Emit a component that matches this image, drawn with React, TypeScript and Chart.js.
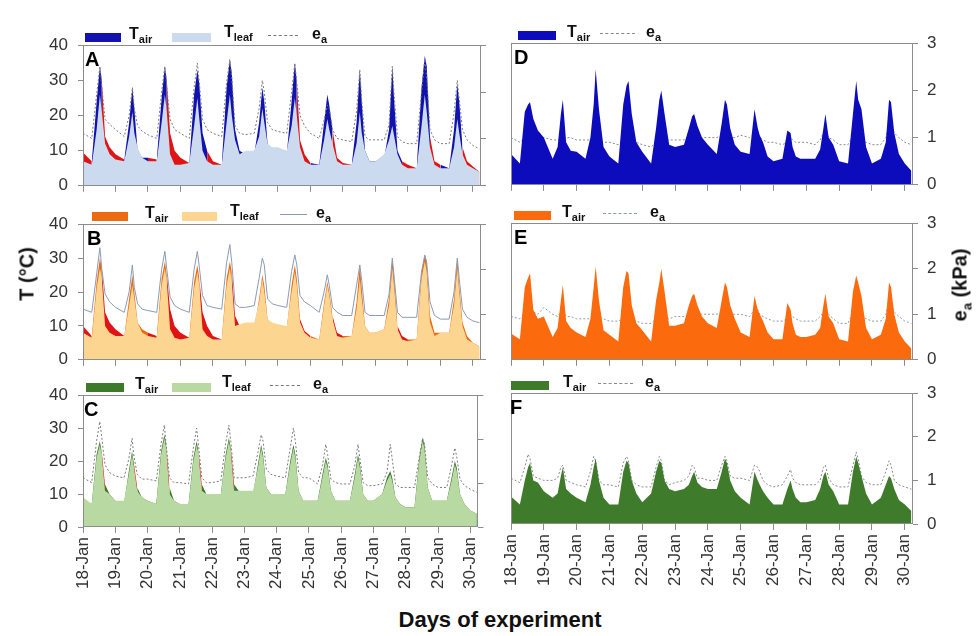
import React, { useEffect, useRef } from "react";
import { Chart, registerables } from "chart.js";
Chart.register(...registerables);

const FONT = "'Liberation Sans', Arial, Helvetica, sans-serif";

// ---------- DATA ----------
const tickLabels = ["18-Jan","19-Jan","20-Jan","21-Jan","22-Jan","23-Jan","24-Jan","25-Jan","26-Jan","27-Jan","28-Jan","29-Jan","30-Jan"];
const dayTicks = [0,1,2,3,4,5,6,7,8,9,10,11,12];
// sampling instants within each day (fraction of day)
const dayFractions = [0, 0.27, 0.42, 0.52, 0.58, 0.68, 0.82];
const sampleDays = [0,1,2,3,4,5,6,7,8,9,10,11];
const tailTimes = [12, 12.2];
const times: number[] = sampleDays.flatMap((d) => dayFractions.map((f) => d + f)).concat(tailTimes);

// Panel A (°C and kPa)
const aTair = [
  9.5, 7, 24, 34, 30, 14, 11,
  9, 7.5, 18, 28, 22, 10, 8,
  8, 7.5, 25, 34, 30, 15, 10,
  8, 6.5, 26, 33, 29, 15, 10,
  7, 6, 28, 36, 32, 16, 10,
  9, 9, 18, 28, 24, 12, 9,
  9, 9, 24, 35, 30, 13, 9,
  6.5, 6, 18, 26, 23, 16, 8,
  6.5, 6, 18, 33, 24, 10, 7,
  7, 8, 16, 34, 24, 10, 7,
  6, 5, 28, 37, 34, 14, 7,
  6, 5, 16, 29, 24, 11, 7,
  5.5, 4];
const aTleaf = [
  7, 6, 16, 26, 21, 12, 9,
  7.5, 7, 14, 21, 15, 11, 8,
  7, 7, 18, 26, 21, 9, 6,
  6, 6.5, 17, 25, 19, 10, 7,
  6, 6, 18, 26, 20, 13, 9,
  10, 10, 14, 22, 18, 12, 11,
  11, 10, 17, 25, 20, 11, 7,
  6, 6, 13, 19, 16, 12, 7,
  6, 6, 12, 21, 15, 10, 7,
  7, 9, 13, 17, 14, 9, 6,
  5, 5, 17, 26, 21, 11, 6,
  5, 5, 11, 19, 15, 9, 6,
  5, 4];
const aEa = [
  1.12, 1.01, 1.95, 2.55, 2.1, 1.42, 1.31,
  1.2, 1.05, 1.5, 2.1, 1.65, 1.28, 1.16,
  1.09, 1.01, 2.0, 2.55, 2.1, 1.42, 1.2,
  1.12, 1.01, 2.1, 2.62, 2.2, 1.42, 1.2,
  1.12, 1.05, 2.2, 2.7, 2.3, 1.28, 1.12,
  1.09, 1.12, 1.65, 2.25, 2.0, 1.35, 1.2,
  1.16, 1.12, 2.0, 2.62, 2.2, 1.5, 1.28,
  1.12, 1.01, 1.4, 1.72, 1.65, 1.2, 1.01,
  0.98, 0.94, 1.6, 2.48, 1.8, 1.05, 0.98,
  0.98, 0.98, 1.3, 2.55, 1.9, 1.05, 0.94,
  0.9, 0.9, 2.0, 2.7, 2.3, 1.2, 0.98,
  0.9, 0.9, 1.55, 2.25, 1.85, 1.2, 0.98,
  0.86, 0.79];
const aRed = [[0, 0.27], [0.58, 1.27], [2.0, 2.27], [2.58, 3.27], [3.82, 4.27], [6.58, 6.95], [7.68, 8.27], [9.82, 10.27], [10.68, 11.0], [11.68, 12.2]];

// Panel B
const bTair = [
  10, 7, 23, 30, 27, 14, 11,
  9, 7, 18, 25, 20, 11, 9,
  8, 7, 24, 29, 25, 15, 10,
  8, 6.5, 23, 28, 24, 14, 10,
  7, 6, 24, 29, 26, 13, 10,
  9, 9, 18, 25, 22, 12, 10,
  9, 9, 22, 28, 24, 12, 8.5,
  7, 6, 17, 23, 20, 13, 8,
  7, 7, 17, 28, 21, 10, 8,
  8, 9, 18, 30, 24, 10, 7,
  6, 6, 26, 31, 29, 13, 8,
  8, 8, 18, 30, 22, 11, 7,
  5, 4];
const bTleaf = [
  8, 6.5, 21, 27, 24, 10, 8,
  7, 7, 16, 22, 18, 11, 8,
  7, 6.5, 22, 27, 23, 9, 6.5,
  6, 6.5, 21, 26, 22, 9, 7,
  6, 6, 22, 27, 23, 10, 10.5,
  11, 11, 17, 24, 20, 12, 11,
  10.5, 10, 20, 26, 22, 11, 8,
  6.5, 6, 16, 22, 19, 12, 7,
  6.5, 7, 15, 24, 18, 10, 8,
  8, 9, 16, 27, 21, 9, 6,
  5.5, 6, 24, 29, 26, 11, 7,
  8, 8, 16, 27, 20, 10, 6,
  5, 4];
const bEa = [
  1.12, 1.05, 1.9, 2.48, 2.0, 1.46, 1.28,
  1.16, 1.05, 1.5, 2.1, 1.6, 1.24, 1.12,
  1.09, 1.05, 2.0, 2.4, 2.0, 1.39, 1.2,
  1.12, 1.05, 2.0, 2.4, 2.05, 1.42, 1.2,
  1.16, 1.12, 2.15, 2.55, 2.15, 1.24, 1.16,
  1.16, 1.2, 1.8, 2.25, 2.1, 1.35, 1.24,
  1.2, 1.16, 1.95, 2.32, 2.1, 1.42, 1.28,
  1.2, 1.05, 1.5, 1.88, 1.65, 1.16, 1.05,
  0.98, 0.98, 1.65, 2.1, 1.75, 1.05, 0.98,
  0.98, 0.98, 1.45, 2.25, 1.8, 1.05, 0.94,
  0.94, 0.94, 1.95, 2.32, 2.15, 1.28, 0.98,
  0.9, 0.9, 1.5, 2.25, 1.8, 1.12, 0.94,
  0.86, 0.82];
const bRed = [[0, 0.27], [0.58, 1.27], [1.95, 2.27], [2.58, 3.27], [3.58, 4.27], [4.58, 4.82], [6.68, 6.95], [7.68, 8.0], [9.68, 9.95]];

// Panel C
const cTair = [
  8, 7, 22, 26, 23, 13, 10,
  8, 7, 17, 23, 19, 12, 9,
  8, 7, 23, 28, 25, 12, 8,
  7, 7, 21, 26, 23, 13, 10,
  10, 10, 22, 27, 24, 13, 11,
  10, 10, 19, 25, 22, 12, 10,
  10, 10, 20, 25, 22, 11, 8,
  8, 8, 16, 21, 19, 11, 8,
  8, 8, 16, 22, 19, 10, 8,
  8, 10, 15, 17, 15, 9, 7,
  6, 6, 21, 27, 25, 12, 8,
  8, 8, 15, 20, 18, 10, 7,
  5, 4];
const cTleaf = [
  9, 7, 21, 25, 22, 11, 10,
  8, 8, 16, 22, 18, 11, 9,
  8, 7, 22, 27, 24, 10, 8,
  7, 7, 20, 25, 22, 11, 10,
  10, 10, 21, 26, 23, 11, 11,
  11, 11, 18, 24, 21, 12, 10,
  10, 10, 19, 24, 21, 11, 8,
  8, 8, 15, 20, 18, 11, 8,
  8, 8, 15, 21, 18, 10, 8,
  8, 10, 14, 16, 14, 9, 7,
  6, 6, 20, 26, 24, 12, 8,
  8, 8, 14, 19, 17, 10, 7,
  5, 4];
const cEa = [
  1.12, 1.01, 1.95, 2.4, 2.05, 1.42, 1.24,
  1.16, 1.12, 1.55, 2.02, 1.6, 1.2, 1.09,
  1.09, 1.05, 1.9, 2.32, 1.85, 1.12, 1.01,
  1.01, 0.98, 1.8, 2.25, 1.85, 1.12, 1.01,
  1.01, 1.05, 1.9, 2.32, 1.95, 1.12, 1.12,
  1.12, 1.16, 1.7, 2.1, 1.95, 1.31, 1.2,
  1.16, 1.12, 1.8, 2.25, 1.95, 1.24, 1.12,
  1.12, 0.98, 1.4, 1.88, 1.65, 1.09, 1.01,
  0.98, 0.98, 1.4, 1.88, 1.55, 1.01, 0.94,
  0.94, 0.98, 1.25, 1.88, 1.55, 0.98, 0.9,
  0.9, 0.9, 1.6, 2.02, 1.9, 1.12, 0.98,
  0.9, 0.9, 1.4, 1.8, 1.6, 1.09, 0.94,
  0.86, 0.79];
const cRed = [[0.58, 0.68], [1.58, 1.68], [2.58, 2.68], [3.58, 3.68], [4.58, 4.68]];

// Panel D (read on the kPa axis)
const dTair = [
  0.65, 0.45, 1.55, 1.7, 1.75, 1.4, 1.15,
  1.0, 0.55, 0.8, 1.5, 1.8, 0.9, 0.72,
  0.7, 0.55, 1.0, 1.7, 2.45, 1.6, 0.8,
  0.6, 0.45, 1.7, 2.1, 2.2, 1.5, 0.9,
  0.7, 0.45, 1.2, 1.8, 2.0, 1.5, 0.85,
  0.8, 0.85, 1.2, 1.45, 1.5, 1.25, 1.0,
  0.85, 0.65, 1.3, 1.8, 1.7, 1.2, 0.85,
  0.7, 0.65, 1.6, 1.2, 1.05, 0.9, 0.6,
  0.5, 0.55, 1.15, 1.1, 0.8, 0.6, 0.55,
  0.55, 0.55, 0.75, 1.2, 1.5, 1.0, 0.85,
  0.5, 0.45, 1.5, 2.2, 1.8, 1.6, 0.8,
  0.45, 0.55, 0.9, 1.8, 1.75, 1.1, 0.65,
  0.45, 0.3];
const dEa = [
  1.0, 0.9, 1.0, 1.05, 1.05, 1.0, 1.0,
  1.0, 0.95, 0.95, 1.0, 1.05, 1.0, 1.0,
  0.95, 0.95, 0.95, 1.0, 1.0, 0.95, 0.9,
  0.9, 0.85, 0.95, 1.0, 1.0, 0.95, 0.9,
  0.85, 0.8, 0.9, 1.0, 1.0, 0.95, 0.95,
  0.95, 0.95, 1.0, 1.05, 1.0, 1.0, 1.0,
  1.0, 1.0, 1.05, 1.1, 1.05, 1.0, 1.0,
  1.05, 1.0, 1.1, 1.05, 1.0, 0.95, 0.9,
  0.9, 0.85, 0.9, 1.0, 0.95, 0.9, 0.9,
  0.9, 0.85, 0.95, 1.1, 1.15, 1.0, 0.95,
  0.85, 0.85, 1.05, 1.1, 1.05, 0.95, 0.9,
  0.85, 0.85, 1.0, 1.3, 1.25, 1.1, 1.0,
  0.9, 0.85];

// Panel E
const eTair = [
  0.58, 0.45, 1.6, 1.8, 1.9, 1.1, 0.9,
  0.95, 0.5, 0.7, 1.3, 1.65, 0.85, 0.7,
  0.6, 0.5, 0.9, 1.6, 2.05, 1.3, 0.65,
  0.55, 0.4, 1.6, 1.95, 1.9, 1.2, 0.8,
  0.65, 0.4, 1.3, 1.7, 2.0, 1.5, 0.75,
  0.75, 0.8, 1.2, 1.4, 1.45, 1.2, 0.95,
  0.8, 0.7, 1.3, 1.7, 1.6, 1.2, 0.9,
  0.6, 0.5, 1.4, 1.1, 1.0, 0.85, 0.6,
  0.45, 0.45, 1.25, 1.1, 0.8, 0.55, 0.5,
  0.5, 0.55, 0.7, 1.2, 1.45, 0.95, 0.8,
  0.45, 0.4, 1.5, 1.85, 1.7, 1.4, 0.7,
  0.45, 0.55, 0.9, 1.7, 1.6, 1.0, 0.6,
  0.4, 0.25];
const eEa = [
  0.95, 0.9, 1.0, 1.1, 1.1, 1.05, 1.0,
  1.15, 1.0, 0.95, 1.05, 1.1, 0.95, 0.95,
  0.9, 0.9, 0.9, 1.0, 1.0, 0.95, 0.9,
  0.85, 0.85, 0.9, 1.0, 1.0, 0.9, 0.85,
  0.8, 0.8, 0.9, 1.0, 1.0, 0.9, 0.9,
  0.95, 0.95, 1.0, 1.05, 1.0, 1.0, 1.0,
  1.0, 1.0, 1.05, 1.1, 1.05, 1.0, 1.0,
  1.0, 0.95, 1.1, 1.1, 1.0, 0.95, 0.9,
  0.85, 0.85, 0.9, 1.0, 0.95, 0.9, 0.85,
  0.85, 0.85, 0.95, 1.05, 1.1, 1.0, 0.9,
  0.8, 0.8, 1.05, 1.1, 1.05, 0.95, 0.9,
  0.85, 0.85, 1.0, 1.3, 1.25, 1.05, 0.95,
  0.85, 0.8];

// Panel F
const fTair = [
  0.63, 0.45, 1.0, 1.3, 1.4, 1.0, 0.95,
  0.75, 0.6, 0.7, 1.1, 1.3, 0.8, 0.7,
  0.6, 0.5, 0.9, 1.3, 1.5, 1.0, 0.6,
  0.45, 0.45, 1.2, 1.45, 1.4, 1.0, 0.7,
  0.5, 0.7, 1.2, 1.45, 1.4, 1.0, 0.8,
  0.75, 0.8, 0.9, 1.1, 1.2, 0.95, 0.85,
  0.8, 0.8, 1.2, 1.5, 1.4, 1.0, 0.75,
  0.6, 0.45, 1.2, 1.0, 0.9, 0.75, 0.6,
  0.45, 0.45, 0.8, 1.0, 0.8, 0.6, 0.5,
  0.5, 0.55, 0.8, 1.1, 1.2, 0.9, 0.75,
  0.45, 0.45, 1.2, 1.55, 1.4, 1.1, 0.7,
  0.45, 0.6, 0.9, 1.1, 1.05, 0.8, 0.55,
  0.45, 0.3];
const fEa = [
  1.05, 0.95, 1.3, 1.6, 1.5, 1.1, 1.05,
  1.0, 1.0, 1.05, 1.3, 1.35, 1.0, 0.95,
  0.9, 0.85, 1.2, 1.55, 1.45, 1.0, 0.9,
  0.9, 0.85, 1.4, 1.55, 1.45, 1.0, 0.9,
  0.85, 0.85, 1.3, 1.55, 1.45, 1.0, 0.9,
  0.95, 1.0, 1.1, 1.35, 1.3, 1.05, 1.05,
  1.0, 1.0, 1.35, 1.55, 1.45, 1.1, 1.05,
  1.05, 1.0, 1.35, 1.3, 1.2, 1.0, 0.9,
  0.85, 0.9, 1.1, 1.25, 1.05, 0.95, 0.9,
  0.9, 0.9, 1.0, 1.3, 1.35, 1.05, 0.9,
  0.85, 0.85, 1.35, 1.65, 1.5, 1.1, 0.95,
  0.9, 0.9, 1.2, 1.45, 1.35, 1.0, 0.9,
  0.85, 0.8];

// ---------- STYLES ----------
const RED = "#e01414";
const AXIS = "#8c8c8c";
const TICK_COLOR = "#333";

const pts = (arr: number[]) => times.map((t, i) => ({ x: t, y: arr[i] }));
const inRanges = (ranges: number[][], x: number) => ranges.some(([a, b]) => x >= a && x <= b);

type Spec = {
  id: string;
  left: number; width: number; plotTop: number; plotH: number;
  leftW: number; rightW: number; xH: number;
  side: "left" | "right";
  showX: boolean;
  datasets: any[];
};

function leftDatasets(tair: number[], tleaf: number[], ea: number[], red: number[][], dark: string, light: string, eaColor: string, dashed: boolean) {
  return [
    { label: "ea", data: pts(ea), yAxisID: "yR", borderColor: eaColor, borderWidth: 1, borderDash: dashed ? [2, 2] : [], pointRadius: 0, fill: false, tension: 0 },
    { label: "Tleaf", data: pts(tleaf), yAxisID: "yL", borderColor: "rgba(0,0,0,0)", borderWidth: 1, pointRadius: 0, fill: "origin", backgroundColor: light },
    {
      label: "Tair", data: pts(tair), yAxisID: "yL", borderColor: "rgba(0,0,0,0)", borderWidth: 1, pointRadius: 0, fill: "origin", backgroundColor: dark,
      segment: { backgroundColor: (ctx: any) => (inRanges(red, (ctx.p0.parsed.x + ctx.p1.parsed.x) / 2) ? RED : dark) },
    },
  ];
}
function rightDatasets(tair: number[], ea: number[], color: string, eaColor: string) {
  return [
    { label: "Tair", data: pts(tair), yAxisID: "yR", borderColor: "rgba(0,0,0,0)", borderWidth: 1, pointRadius: 0, fill: "origin", backgroundColor: color },
    { label: "ea", data: pts(ea), yAxisID: "yR", borderColor: eaColor, borderWidth: 1, borderDash: [2, 2], pointRadius: 0, fill: false },
  ];
}

const specs: Spec[] = [
  { id: "A", left: 0, width: 495, plotTop: 45, plotH: 141, leftW: 83, rightW: 14, xH: 7, side: "left", showX: false,
    datasets: leftDatasets(aTair, aTleaf, aEa, aRed, "#1212b0", "#cbdaee", "#7a7a7a", true) },
  { id: "B", left: 0, width: 495, plotTop: 224, plotH: 136, leftW: 83, rightW: 14, xH: 7, side: "left", showX: false,
    datasets: leftDatasets(bTair, bTleaf, bEa, bRed, "#ec6a12", "#fcd690", "#8c9bb3", false) },
  { id: "C", left: 0, width: 495, plotTop: 395, plotH: 132, leftW: 83, rightW: 14, xH: 75, side: "left", showX: true,
    datasets: leftDatasets(cTair, cTleaf, cEa, cRed, "#3c7a2a", "#b8daa2", "#7a7a7a", true) },
  { id: "D", left: 490, width: 486, plotTop: 43, plotH: 142, leftW: 21, rightW: 63, xH: 7, side: "right", showX: false,
    datasets: rightDatasets(dTair, dEa, "#0c0cbc", "#8a8a8a") },
  { id: "E", left: 490, width: 486, plotTop: 223, plotH: 137, leftW: 21, rightW: 63, xH: 7, side: "right", showX: false,
    datasets: rightDatasets(eTair, eEa, "#fb6a0c", "#8c9bb3") },
  { id: "F", left: 490, width: 486, plotTop: 393, plotH: 131, leftW: 21, rightW: 63, xH: 75, side: "right", showX: true,
    datasets: rightDatasets(fTair, fEa, "#3e7b2b", "#8a8a8a") },
];

const boxPlugin = {
  id: "box",
  afterDatasetsDraw(chart: any) {
    const { ctx, chartArea } = chart;
    const l = Math.round(chartArea.left), t = Math.round(chartArea.top);
    const r = Math.round(chartArea.right), b = Math.round(chartArea.bottom);
    ctx.save();
    ctx.strokeStyle = AXIS;
    ctx.lineWidth = 1;
    ctx.strokeRect(l + 0.5, t + 0.5, r - l - 1, b - t - 1);
    ctx.restore();
  },
};

function Panel({ spec }: { spec: Spec }) {
  const ref = useRef<HTMLCanvasElement | null>(null);
  const initH = spec.plotH + spec.xH + 60;
  useEffect(() => {
    const canvas = ref.current;
    if (!canvas) return;
    const tickFont = { family: FONT, size: 17 };
    const isLeft = spec.side === "left";
    const chart = new Chart(canvas, {
      type: "line",
      data: { datasets: spec.datasets },
      plugins: [boxPlugin],
      options: {
        animation: false,
        responsive: false,
        maintainAspectRatio: false,
        devicePixelRatio: 1,
        layout: { padding: 0 },
        plugins: { legend: { display: false }, tooltip: { enabled: false } },
        scales: {
          x: {
            type: "linear", min: 0, max: 12.25,
            afterBuildTicks: (s: any) => { s.ticks = dayTicks.map((v) => ({ value: v })); },
            afterFit: (s: any) => { s.height = spec.xH; },
            ticks: {
              display: spec.showX, autoSkip: false, maxRotation: 90, minRotation: 90, padding: 4,
              font: tickFont, color: TICK_COLOR,
              callback: (_v: any, i: number) => tickLabels[i],
            },
            grid: { display: true, drawOnChartArea: false, drawTicks: true, tickLength: 6, color: AXIS },
            border: { display: false },
          },
          yL: {
            type: "linear", position: "left", min: 0, max: 40,
            afterFit: (s: any) => { s.width = spec.leftW; },
            ticks: { display: isLeft, stepSize: 10, padding: 10, font: tickFont, color: TICK_COLOR },
            grid: { display: isLeft, drawOnChartArea: false, drawTicks: true, tickLength: 5, color: AXIS },
            border: { display: false },
          },
          yR: {
            type: "linear", position: "right", min: 0, max: 3,
            afterFit: (s: any) => { s.width = spec.rightW; },
            ticks: { display: !isLeft, stepSize: 1, padding: 9, font: tickFont, color: TICK_COLOR },
            grid: { display: true, drawOnChartArea: false, drawTicks: true, tickLength: 5, color: AXIS },
            border: { display: false },
          },
        },
      } as any,
    });
    // place the plot area where the reference has it
    const ca = chart.chartArea;
    const topOff = ca.top;
    const botOff = initH - ca.bottom;
    const newH = Math.round(topOff + spec.plotH + botOff);
    canvas.style.top = `${Math.round(spec.plotTop - topOff)}px`;
    chart.resize(spec.width, newH);
    return () => chart.destroy();
  }, [spec]);
  return (
    <canvas ref={ref} width={spec.width} height={initH}
      style={{ position: "absolute", left: spec.left, top: spec.plotTop, width: spec.width, height: initH }} />
  );
}

// ---------- LEGENDS / LABELS ----------
function Rect({ x, y, w, color }: { x: number; y: number; w: number; color: string }) {
  return <div style={{ position: "absolute", left: x, top: y, width: w, height: 9, background: color }} />;
}
function Line({ x, y, w, color, dashed }: { x: number; y: number; w: number; color: string; dashed: boolean }) {
  return <div style={{ position: "absolute", left: x, top: y, width: w, height: 0, borderTop: `1px ${dashed ? "dashed" : "solid"} ${color}` }} />;
}
function SubText({ x, y, main, sub }: { x: number; y: number; main: string; sub: string }) {
  return (
    <div style={{ position: "absolute", left: x, top: y, font: `bold 16px ${FONT}`, lineHeight: "16px", whiteSpace: "nowrap", color: "#111" }}>
      {main}<span style={{ fontSize: 11, position: "relative", top: 4 }}>{sub}</span>
    </div>
  );
}
function Letter({ x, y, t }: { x: number; y: number; t: string }) {
  return <div style={{ position: "absolute", left: x, top: y, font: `bold 20px ${FONT}`, lineHeight: "20px", color: "#000" }}>{t}</div>;
}

type LegendCfg = { top: number; r1: [number, number]; t1: number; r2?: [number, number]; t2?: number; ln: [number, number]; t3: number; dark: string; light?: string; eaColor: string; dashed: boolean };
const legends: LegendCfg[] = [
  { top: 45, r1: [85, 36], t1: 129, r2: [172, 39], t2: 224, ln: [268, 30], t3: 312, dark: "#1212b0", light: "#cbdaee", eaColor: "#777", dashed: true },
  { top: 224, r1: [92, 36], t1: 145, r2: [182, 35], t2: 230, ln: [280, 27], t3: 316, dark: "#ec6a12", light: "#fcd690", eaColor: "#8c9bb3", dashed: false },
  { top: 395, r1: [86, 38], t1: 135, r2: [172, 39], t2: 222, ln: [270, 30], t3: 313, dark: "#3c7a2a", light: "#b8daa2", eaColor: "#777", dashed: true },
  { top: 43, r1: [518, 38], t1: 567, ln: [600, 35], t3: 646, dark: "#0c0cbc", eaColor: "#888", dashed: true },
  { top: 223, r1: [514, 37], t1: 562, ln: [603, 34], t3: 650, dark: "#fb6a0c", eaColor: "#8c9bb3", dashed: true },
  { top: 393, r1: [511, 38], t1: 563, ln: [598, 35], t3: 645, dark: "#3e7b2b", eaColor: "#888", dashed: true },
];
const letters = [
  { t: "A", x: 85, y: 49 }, { t: "B", x: 87, y: 228 }, { t: "C", x: 84, y: 399 },
  { t: "D", x: 514, y: 47 }, { t: "E", x: 514, y: 227 }, { t: "F", x: 510, y: 397 },
];

export default function App() {
  return (
    <div style={{ position: "absolute", left: 0, top: 0, width: 976, height: 636, background: "#fff", overflow: "hidden", fontFamily: FONT }}>
      {specs.map((s) => <Panel key={s.id} spec={s} />)}
      {legends.map((l, i) => (
        <React.Fragment key={i}>
          <Rect x={l.r1[0]} y={l.top - 12} w={l.r1[1]} color={l.dark} />
          <SubText x={l.t1} y={l.top - 19} main="T" sub="air" />
          {l.r2 && <Rect x={l.r2[0]} y={l.top - 12} w={l.r2[1]} color={l.light as string} />}
          {l.t2 !== undefined && <SubText x={l.t2} y={l.top - 21} main="T" sub="leaf" />}
          <Line x={l.ln[0]} y={l.top - 10} w={l.ln[1]} color={l.eaColor} dashed={l.dashed} />
          <SubText x={l.t3} y={l.top - 19} main="e" sub="a" />
        </React.Fragment>
      ))}
      {letters.map((l) => <Letter key={l.t} x={l.x} y={l.y} t={l.t} />)}
      <div style={{ position: "absolute", left: 27, top: 274, transform: "translate(-50%,-50%) rotate(-90deg)", font: `bold 20px ${FONT}`, whiteSpace: "nowrap", color: "#111" }}>
        T (°C)
      </div>
      <div style={{ position: "absolute", left: 960, top: 285, transform: "translate(-50%,-50%) rotate(-90deg)", font: `bold 20px ${FONT}`, whiteSpace: "nowrap", color: "#111" }}>
        e<span style={{ fontSize: 13, position: "relative", top: 5 }}>a</span> (kPa)
      </div>
      <div style={{ position: "absolute", left: 500, top: 620, transform: "translate(-50%,-50%)", font: `bold 22px ${FONT}`, whiteSpace: "nowrap", color: "#111" }}>
        Days of experiment
      </div>
    </div>
  );
}
